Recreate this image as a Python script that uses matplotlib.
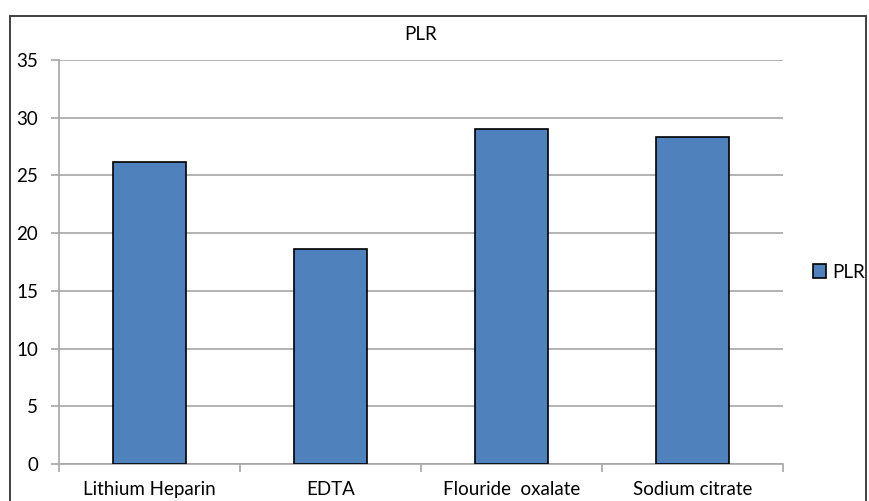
import matplotlib
matplotlib.use("Agg")
import matplotlib.pyplot as plt
from matplotlib.patches import Rectangle

# data
categories = ["Lithium Heparin", "EDTA", "Flouride  oxalate", "Sodium citrate"]
plr_values = [26.2, 18.6, 29.0, 28.3]
y_ticks = [0, 5, 10, 15, 20, 25, 30, 35]

plt.rcParams['font.family'] = ['Lato', 'DejaVu Sans']
FS = 13.5

fig = plt.figure(figsize=(8.7, 5.01), dpi=100)
ax = fig.add_axes([59 / 870, 1 - 464 / 501, (783 - 59) / 870, (464 - 60) / 501])

# outer chart border
fig.patches.append(Rectangle((10 / 870, -0.05), 856 / 870, 1 - 16 / 501 + 0.05,
                             transform=fig.transFigure, fill=False,
                             edgecolor='#404040', linewidth=1.4))

x = list(range(len(categories)))
ax.bar(x, plr_values, width=0.4, color='#4f81bd', edgecolor='black',
       linewidth=1.2, label='PLR', zorder=3)

ax.set_xlim(-0.5, len(categories) - 0.5)
ax.set_ylim(0, 35)
ax.set_yticks(y_ticks)
ax.yaxis.grid(True, color='#a6a6a6', linewidth=1.2, zorder=0)

ax.set_xticks(x)
ax.set_xticklabels(categories, fontsize=FS)
ax.tick_params(axis='x', length=0, pad=12)
ax.set_xticks([i - 0.5 for i in range(len(categories) + 1)], minor=True)
ax.tick_params(axis='x', which='minor', length=6, color='#a6a6a6', width=1.2)
ax.tick_params(axis='y', length=6, color='#a6a6a6', width=1.2, labelsize=FS, pad=9)

for side in ['top', 'right']:
    ax.spines[side].set_visible(False)
for side in ['left', 'bottom']:
    ax.spines[side].set_color('#a6a6a6')
    ax.spines[side].set_linewidth(1.2)

fig.text(421 / 870, 1 - 35 / 501, "PLR", ha='center', va='center', fontsize=FS)

fig.legend(loc='center left', bbox_to_anchor=(809 / 870, 1 - 272 / 501),
           frameon=False, fontsize=FS, handlelength=0.7, handleheight=0.7,
           handletextpad=0.35, borderpad=0.2, borderaxespad=0.0)

fig.savefig("out.png", dpi=100)
